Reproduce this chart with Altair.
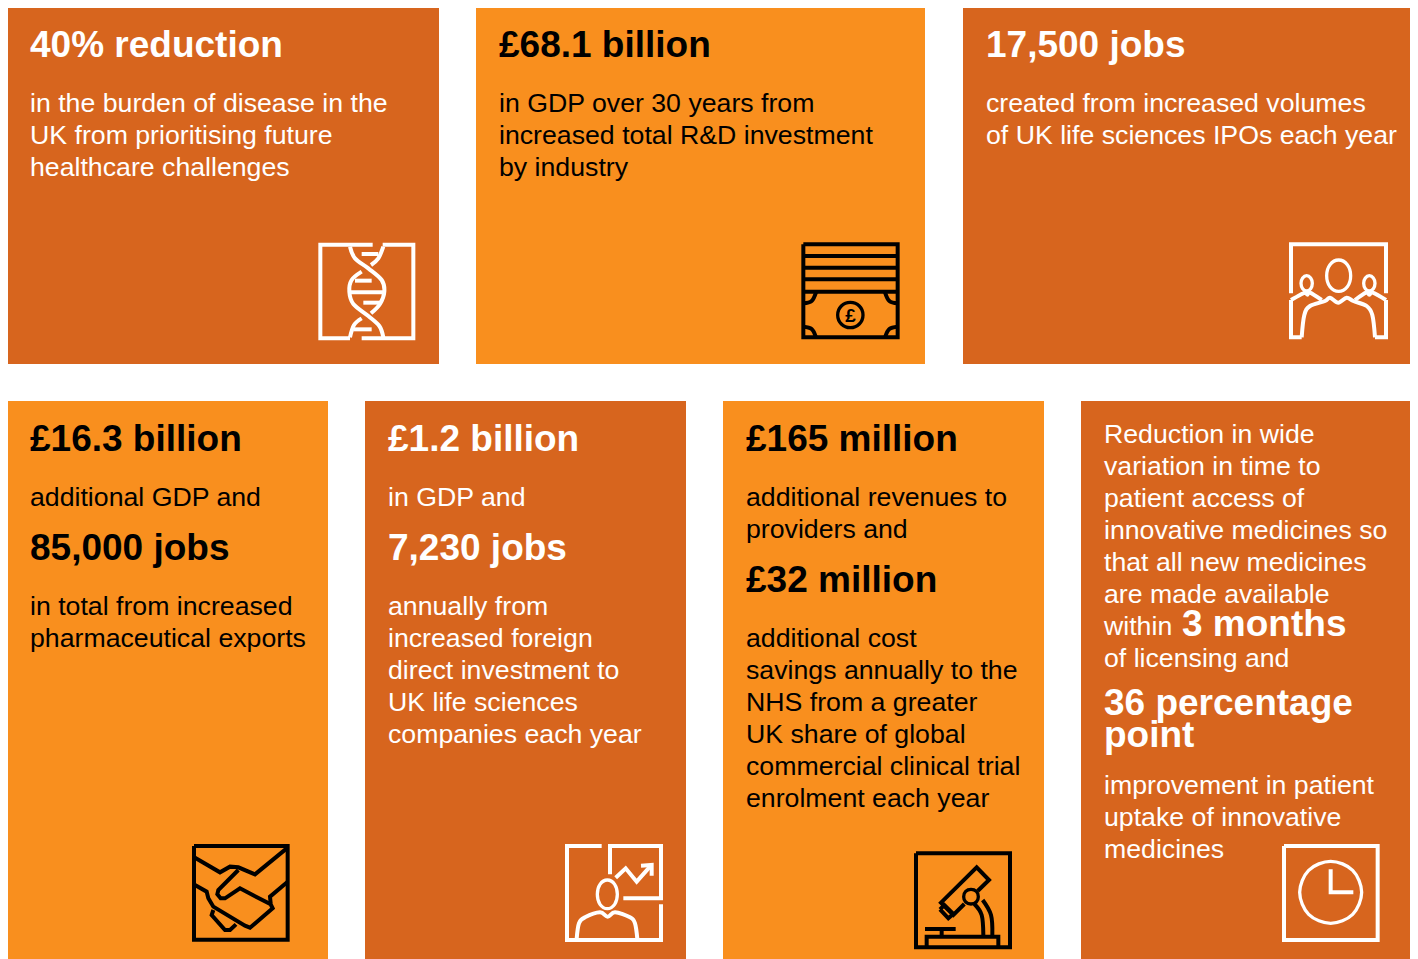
import altair as alt
import pandas as pd

DARK = "#D7651E"
LIGHT = "#F98F1E"
WHITE = "#FFFFFF"
BLACK = "#000000"
FONT = "Liberation Sans"
BODY_SIZE = 26.7
HEAD_SIZE = 37

tile_x1 = [7, 476, 963, 7, 365, 723, 1081]
tile_x2 = [439, 925, 1412, 328, 686, 1044, 1414]
tile_y1 = [8, 8, 8, 401, 401, 401, 401]
tile_y2 = [364, 364, 364, 959, 959, 959, 959]
tile_fill = [DARK, LIGHT, DARK, LIGHT, DARK, LIGHT, DARK]

heads = [
    (30, 57, "40% reduction", WHITE),
    (499, 57, "£68.1 billion", BLACK),
    (986, 57, "17,500 jobs", WHITE),
    (30, 451, "£16.3 billion", BLACK),
    (30, 560, "85,000 jobs", BLACK),
    (388, 451, "£1.2 billion", WHITE),
    (388, 560, "7,230 jobs", WHITE),
    (746, 451, "£165 million", BLACK),
    (746, 592, "£32 million", BLACK),
    (1182, 636, "3 months", WHITE),
    (1104, 715, "36 percentage", WHITE),
    (1104, 747, "point", WHITE),
]
bodies = [
    (30, 112, "in the burden of disease in the", WHITE),
    (30, 144, "UK from prioritising future", WHITE),
    (30, 176, "healthcare challenges", WHITE),
    (499, 112, "in GDP over 30 years from", BLACK),
    (499, 144, "increased total R&D investment", BLACK),
    (499, 176, "by industry", BLACK),
    (986, 112, "created from increased volumes", WHITE),
    (986, 144, "of UK life sciences IPOs each year", WHITE),
    (30, 506, "additional GDP and", BLACK),
    (30, 615, "in total from increased", BLACK),
    (30, 647, "pharmaceutical exports", BLACK),
    (388, 506, "in GDP and", WHITE),
    (388, 615, "annually from", WHITE),
    (388, 647, "increased foreign", WHITE),
    (388, 679, "direct investment to", WHITE),
    (388, 711, "UK life sciences", WHITE),
    (388, 743, "companies each year", WHITE),
    (746, 506, "additional revenues to", BLACK),
    (746, 538, "providers and", BLACK),
    (746, 647, "additional cost", BLACK),
    (746, 679, "savings annually to the", BLACK),
    (746, 711, "NHS from a greater", BLACK),
    (746, 743, "UK share of global", BLACK),
    (746, 775, "commercial clinical trial", BLACK),
    (746, 807, "enrolment each year", BLACK),
    (1104, 443, "Reduction in wide", WHITE),
    (1104, 475, "variation in time to", WHITE),
    (1104, 507, "patient access of", WHITE),
    (1104, 539, "innovative medicines so", WHITE),
    (1104, 571, "that all new medicines", WHITE),
    (1104, 603, "are made available", WHITE),
    (1104, 635, "within", WHITE),
    (1104, 667, "of licensing and", WHITE),
    (1104, 794, "improvement in patient", WHITE),
    (1104, 826, "uptake of innovative", WHITE),
    (1104, 858, "medicines", WHITE),
]

dna = (300, 230, WHITE)
dna_straight = [
    [(218, 44), (61, 44), (61, 325), (150, 325)],
    [(248, 44), (340, 44), (340, 325), (185, 325)],
    [(185, 72), (235, 72)], [(165, 152), (215, 152)], [(150, 187), (250, 187)],
    [(190, 218), (240, 218)], [(160, 298), (215, 298)],
]
dna_curved = [
    [(150, 50), (165, 85), (205, 115), (245, 150), (253, 185), (240, 222), (213, 250)],
    [(250, 50), (235, 85), (213, 105)],
    [(185, 125), (155, 150), (148, 185), (160, 222), (205, 258), (238, 288), (250, 322)],
    [(185, 265), (162, 285), (150, 322)],
]
money = (790, 230, BLACK)
money_straight = [
    [(40, 43), (323, 43), (323, 322), (40, 322), (40, 43)],
    [(40, 78), (323, 78)], [(40, 113), (323, 113)], [(40, 148), (323, 148)], [(40, 185), (323, 185)],
]
money_curved = [
    [(40, 290), (65, 297), (78, 322)], [(323, 290), (298, 297), (285, 322)],
    [(40, 220), (65, 213), (78, 187)], [(323, 220), (298, 213), (285, 187)],
]
money_rings = [[(181, 217), (208, 228), (219, 255), (208, 282), (181, 293), (154, 282), (143, 255), (154, 228)]]
people = (1280, 230, WHITE)
people_straight = [
    [(33, 190), (33, 43), (318, 43), (318, 190)],
    [(33, 210), (33, 322), (65, 322)],
    [(285, 322), (318, 322), (318, 210)],
]
people_curved = [
    [(33, 210), (60, 195), (75, 188), (82, 194), (90, 188), (125, 210)],
    [(225, 210), (258, 188), (268, 194), (278, 188), (318, 210)],
    [(65, 322), (73, 255), (90, 228), (135, 213), (150, 203), (175, 218),
     (200, 203), (220, 213), (260, 228), (277, 255), (285, 322)],
]
people_rings = [
    [(176, 90), (202, 104), (212, 137), (202, 170), (176, 184), (150, 170), (140, 137), (150, 104)],
    [(80, 137), (92, 144), (97, 160), (92, 176), (80, 183), (68, 176), (63, 160), (68, 144)],
    [(268, 137), (280, 144), (285, 160), (280, 176), (268, 183), (256, 176), (251, 160), (256, 144)],
]
shake = (180, 835, BLACK)
shake_straight = [
    [(42, 33), (323, 33), (323, 314), (42, 314), (42, 33)],
    [(45, 68), (120, 112), (150, 95), (175, 97), (225, 118), (323, 38)],
    [(175, 105), (115, 165), (112, 178), (122, 190), (135, 190), (180, 160), (272, 208), (278, 220),
     (210, 278), (195, 272), (100, 215), (85, 190), (80, 170), (45, 150)],
    [(323, 140), (270, 185), (272, 205)],
    [(100, 225), (95, 240), (135, 285), (150, 285), (168, 268)],
]
chart_man = (555, 835, WHITE)
chart_straight = [
    [(140, 33), (36, 33), (36, 315), (318, 315), (318, 208)],
    [(165, 118), (165, 33), (318, 33), (318, 190), (205, 190)],
    [(182, 128), (212, 100), (245, 140), (285, 95)],
    [(258, 92), (290, 90), (290, 122)],
]
chart_curved = [[(65, 312), (72, 265), (90, 247), (135, 232), (158, 245), (180, 232), (225, 247), (240, 265), (247, 312)]]
chart_rings = [[(157, 135), (179, 148), (187, 178), (179, 208), (157, 221), (135, 208), (127, 178), (135, 148)]]
scope = (905, 840, BLACK)
scope_straight = [
    [(33, 40), (315, 40), (315, 322), (33, 322), (33, 40)],
    [(218, 153), (252, 120), (215, 82), (108, 188), (145, 225), (178, 192)],
    [(105, 208), (118, 195), (145, 222), (130, 235), (105, 208)],
    [(65, 322), (65, 290), (280, 290), (280, 322)],
    [(60, 267), (152, 267)], [(110, 267), (110, 290)],
]
scope_curved = [
    [(208, 192), (230, 225), (235, 285)], [(233, 180), (258, 225), (262, 285)],
]
scope_rings = [[(198, 148), (214, 154), (220, 170), (214, 186), (198, 192), (182, 186), (176, 170), (182, 154)]]
clock = (1270, 835, WHITE)
clock_straight = [
    [(42, 33), (323, 33), (323, 315), (42, 315), (42, 33)],
    [(182, 103), (182, 172), (250, 172)],
]
clock_rings = [[(182, 79), (248, 106), (275, 172), (248, 238), (182, 265), (116, 238), (89, 172), (116, 106)]]

straight = [(dna, dna_straight), (money, money_straight), (people, people_straight), (shake, shake_straight),
            (chart_man, chart_straight), (scope, scope_straight), (clock, clock_straight)]
curved = [(dna, dna_curved), (money, money_curved), (people, people_curved), (chart_man, chart_curved),
          (scope, scope_curved)]
rings = [(money, money_rings), (people, people_rings), (chart_man, chart_rings), (scope, scope_rings), (clock, clock_rings)]


def paths(groups):
    rows, pid = [], 0
    for (ox, oy, colour), lines in groups:
        for line in lines:
            pid += 1
            for k, (zx, zy) in enumerate(line):
                rows.append(dict(x=ox + zx / 3, y=oy + zy / 3, path=pid, k=k, colour=colour))
    return pd.DataFrame(rows)


W, H = 1402, 951
X = alt.Scale(domain=[8, 8 + W], range=[0, W])
Y = alt.Scale(domain=[8, 8 + H], range=[0, H])

tiles = alt.Chart(pd.DataFrame(dict(x=tile_x1, x2=tile_x2, y=tile_y1, y2=tile_y2, fill=tile_fill))).mark_rect(clip=True).encode(
    x=alt.X("x:Q", scale=X, axis=None), x2="x2:Q",
    y=alt.Y("y:Q", scale=Y, axis=None), y2="y2:Q",
    color=alt.Color("fill:N", scale=None),
)


def texts(rows, weight, size, align="left"):
    df = pd.DataFrame(rows, columns=["x", "y", "label", "colour"])
    return alt.Chart(df).mark_text(align=align, baseline="alphabetic", font=FONT, fontWeight=weight, fontSize=size).encode(
        x=alt.X("x:Q", scale=X, axis=None), y=alt.Y("y:Q", scale=Y, axis=None),
        text="label:N", color=alt.Color("colour:N", scale=None),
    )


def strokes(groups, interpolate, width):
    return alt.Chart(paths(groups)).mark_line(interpolate=interpolate, strokeWidth=width, strokeJoin="miter").encode(
        x=alt.X("x:Q", scale=X, axis=None), y=alt.Y("y:Q", scale=Y, axis=None),
        detail="path:N", order="k:Q", color=alt.Color("colour:N", scale=None),
    )


chart = alt.layer(
    tiles,
    strokes(straight, "linear", 4),
    strokes(curved, "cardinal", 4),
    strokes(rings, "cardinal-closed", 3.3),
    texts([(850.5, 322, "£", BLACK)], "bold", 19, "center"),
    texts(bodies, "normal", BODY_SIZE),
    texts(heads, "bold", HEAD_SIZE),
).properties(
    width=W, height=H, padding=0, background="#FFFFFF",
    autosize=alt.AutoSizeParams(type="none"),
).configure_view(stroke=None)

chart.save("out.html", embed_options={"renderer": "svg", "actions": False})
